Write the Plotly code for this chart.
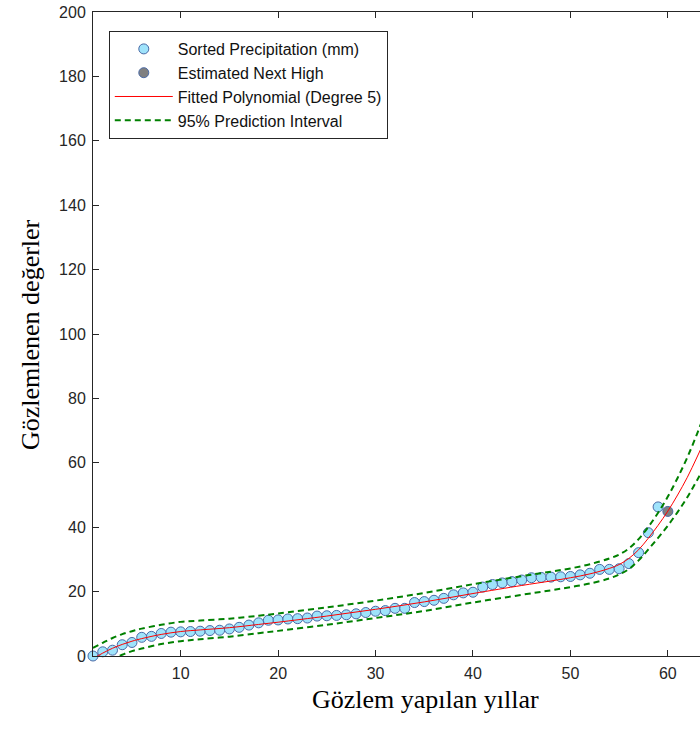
import plotly.graph_objects as go

# Observed sorted precipitation (mm), index 1..59
x_obs = list(range(1, 60))
y_obs = [0.0, 1.3, 1.8, 3.5, 4.2, 5.8, 6.1, 7.0, 7.4, 7.5,
         7.6, 7.7, 7.9, 8.0, 8.4, 8.9, 9.6, 10.3, 11.1, 11.2,
         11.5, 11.6, 11.8, 12.4, 12.5, 12.6, 12.8, 13.1, 13.5, 13.9,
         14.1, 14.8, 14.8, 16.6, 16.9, 17.3, 17.9, 19.0, 19.6, 19.8,
         21.4, 22.2, 22.7, 23.1, 23.6, 24.3, 24.4, 24.5, 24.6, 24.7,
         25.2, 25.7, 26.9, 26.9, 27.1, 28.7, 32.1, 38.3, 46.3]

# Estimated next high
x_next = [60]
y_next = [44.9]

# Fitted polynomial and prediction interval
x_fit = [1, 2, 3, 4, 5, 6, 8, 10, 12, 15, 18, 20, 25, 30, 35, 40, 45, 48, 50,
         52, 54, 55, 56, 57, 58, 59, 60, 61, 62, 63, 64]
y_fit = [-0.8, 0.9, 2.4, 3.6, 4.6, 5.4, 6.7, 7.6, 8.1, 8.8, 9.8, 10.5, 12.4, 14.5,
         16.8, 19.4, 21.9, 23.3, 24.3, 25.5, 27.2, 28.4, 30.3, 33.0, 36.6, 40.6,
         45.0, 50.0, 55.5, 61.8, 68.5]
y_upper = [2.5, 4.1, 5.6, 6.8, 7.7, 8.5, 9.7, 10.6, 11.0, 11.6, 12.5, 13.2, 15.1,
           17.2, 19.6, 22.3, 24.8, 26.2, 27.2, 28.5, 30.3, 31.5, 33.4, 36.3, 40.1,
           44.5, 49.5, 55.3, 61.7, 69.0, 77.0]
y_lower = [-4.1, -2.3, -0.8, 0.4, 1.5, 2.3, 3.7, 4.6, 5.2, 6.0, 7.1, 7.8, 9.7,
           11.8, 14.0, 16.6, 19.0, 20.4, 21.4, 22.5, 24.1, 25.3, 27.0, 29.7, 33.1,
           36.7, 40.5, 44.7, 49.3, 54.6, 60.0]

x_ticks = [10, 20, 30, 40, 50, 60]
y_ticks = [0, 20, 40, 60, 80, 100, 120, 140, 160, 180, 200]

AX = "#262626"
FILL = "#9fe3fb"
EDGE = "#4a6aa6"

fig = go.Figure()
fig.add_trace(go.Scatter(
    x=x_obs, y=y_obs, mode="markers", name="Sorted Precipitation (mm)",
    marker=dict(size=10, color=FILL, line=dict(color=EDGE, width=1)),
    cliponaxis=False))
fig.add_trace(go.Scatter(
    x=x_next, y=y_next, mode="markers", name="Estimated Next High",
    marker=dict(size=10, color="#808080", line=dict(color=EDGE, width=1)),
    cliponaxis=False))
fig.add_trace(go.Scatter(
    x=x_fit, y=y_fit, mode="lines", name="Fitted Polynomial (Degree 5)",
    line=dict(color="#ff0000", width=1, shape="spline")))
fig.add_trace(go.Scatter(
    x=x_fit, y=y_upper, mode="lines", name="95% Prediction Interval",
    line=dict(color="#008000", width=2, dash="6px,4px", shape="spline")))
fig.add_trace(go.Scatter(
    x=x_fit, y=y_lower, mode="lines", showlegend=False,
    line=dict(color="#008000", width=2, dash="6px,4px", shape="spline")))

tickfont = dict(family="Liberation Sans, Arial", size=16, color=AX)

fig.update_layout(
    width=700, height=738,
    margin=dict(l=93, r=0, t=12, b=82),
    paper_bgcolor="white", plot_bgcolor="white",
    showlegend=True,
    legend=dict(
        x=0.026, y=0.9705, xanchor="left", yanchor="top",
        bgcolor="white", bordercolor=AX, borderwidth=1,
        font=dict(family="Liberation Sans, Arial", size=16, color="#111111"),
        itemwidth=58, tracegroupgap=0,
    ),
    xaxis=dict(
        range=[1, 63.3], tickvals=x_ticks, ticks="inside", ticklen=6,
        tickcolor=AX, showline=True, linecolor=AX, linewidth=1, mirror="ticks",
        showgrid=False, zeroline=False, tickfont=tickfont, ticklabelstandoff=3,
    ),
    yaxis=dict(
        range=[0, 200], tickvals=y_ticks, ticks="inside", ticklen=6,
        tickcolor=AX, showline=True, linecolor=AX, linewidth=1, mirror=False,
        showgrid=False, zeroline=False, tickfont=tickfont, ticklabelstandoff=3,
    ),
    annotations=[
        dict(text="Gözlem yapılan yıllar", xref="paper", yref="paper",
             x=(426 - 93) / 607, y=-(699 - 656) / 644, xanchor="center", yanchor="middle",
             showarrow=False,
             font=dict(family="Liberation Serif, Times New Roman", size=26, color="#000000")),
        dict(text="Gözlemlenen değerler", xref="paper", yref="paper",
             x=-(93 - 30) / 607, y=1 - (335 - 12) / 644, xanchor="center", yanchor="middle",
             textangle=-90, showarrow=False,
             font=dict(family="Liberation Serif, Times New Roman", size=26, color="#000000")),
    ],
)

fig.write_html("out.html")
